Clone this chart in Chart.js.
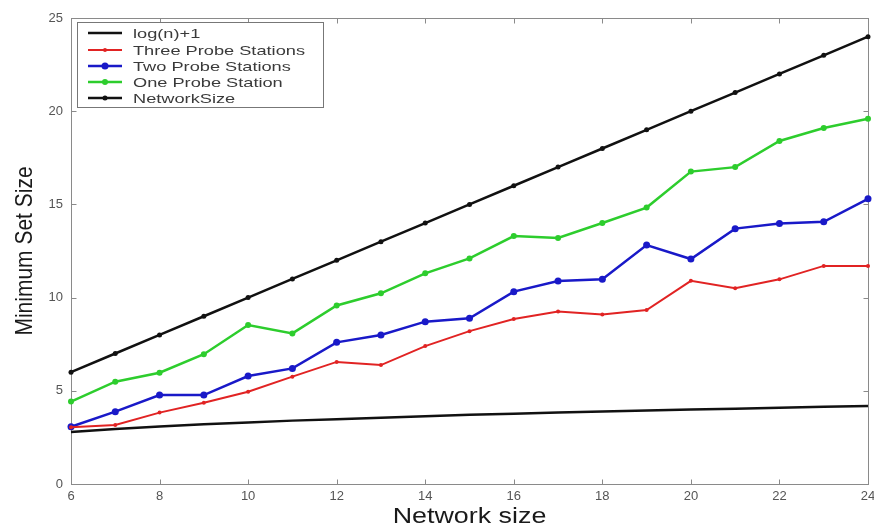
<!DOCTYPE html>
<html>
<head>
<meta charset="utf-8">
<script src="https://cdn.jsdelivr.net/npm/chart.js@4/dist/chart.umd.min.js"></script>
<style>
  html, body { margin: 0; padding: 0; background: #fff; }
  #wrap { width: 874px; height: 527px; position: relative; }
</style>
</head>
<body>
<div id="wrap"><canvas id="c" width="874" height="527"></canvas></div>
<script>
// ---- data ----
const networkSizes = [6, 7, 8, 9, 10, 11, 12, 13, 14, 15, 16, 17, 18, 19, 20, 21, 22, 23, 24];
const logPlusOne   = [2.79, 2.95, 3.08, 3.20, 3.30, 3.40, 3.48, 3.56, 3.64, 3.71, 3.77, 3.83, 3.89, 3.94, 4.00, 4.04, 4.09, 4.14, 4.18];
const threeProbe   = [3.05, 3.17, 3.83, 4.36, 4.95, 5.76, 6.55, 6.38, 7.40, 8.20, 8.85, 9.25, 9.10, 9.33, 10.90, 10.50, 10.98, 11.70, 11.70];
const twoProbe     = [3.07, 3.88, 4.77, 4.77, 5.79, 6.20, 7.60, 7.99, 8.71, 8.89, 10.32, 10.89, 10.98, 12.82, 12.07, 13.70, 13.98, 14.07, 15.30];
const oneProbe     = [4.42, 5.49, 5.97, 6.96, 8.53, 8.08, 9.58, 10.23, 11.30, 12.10, 13.30, 13.20, 14.00, 14.83, 16.76, 17.00, 18.40, 19.10, 19.60];
const netSizeLine  = [6, 7, 8, 9, 10, 11, 12, 13, 14, 15, 16, 17, 18, 19, 20, 21, 22, 23, 24];
const seriesLabels = ['log(n)+1', 'Three Probe Stations', 'Two Probe Stations', 'One Probe Station', 'NetworkSize'];
const xTitle = 'Network size';
const yTitle = 'Minimum Set Size';

const pts = ys => networkSizes.map((x, i) => ({ x: x, y: ys[i] }));
const FONT = '"Liberation Sans", Arial, Helvetica, sans-serif';

const matlabPlugin = {
  id: 'matlabAxes',
  beforeDatasetsDraw(chart) {
    const { ctx, chartArea: a, scales: { x, y } } = chart;
    ctx.save();
    ctx.strokeStyle = '#8a8a8a';
    ctx.lineWidth = 1;
    const L = Math.round(a.left) + 0.5, R = Math.round(a.right) + 0.5;
    const T = Math.round(a.top) + 0.5, B = Math.round(a.bottom) + 0.5;
    ctx.strokeRect(L, T, R - L, B - T);
    const tl = 5;
    ctx.beginPath();
    x.ticks.forEach(t => {
      const px = Math.round(x.getPixelForValue(t.value)) + 0.5;
      ctx.moveTo(px, B); ctx.lineTo(px, B - tl);
      ctx.moveTo(px, T); ctx.lineTo(px, T + tl);
    });
    y.ticks.forEach(t => {
      const py = Math.round(y.getPixelForValue(t.value)) + 0.5;
      ctx.moveTo(L, py); ctx.lineTo(L + tl, py);
      ctx.moveTo(R, py); ctx.lineTo(R - tl, py);
    });
    ctx.stroke();

    // axis titles (slightly widened like the reference)
    ctx.fillStyle = '#1a1a1a';
    ctx.textAlign = 'center';
    ctx.textBaseline = 'middle';
    ctx.font = '22px ' + FONT;
    ctx.save();
    ctx.translate((a.left + a.right) / 2, 517);
    ctx.scale(1.22, 1);
    ctx.fillText(xTitle, 0, 0);
    ctx.restore();
    ctx.font = '21px ' + FONT;
    ctx.save();
    ctx.translate(25, (a.top + a.bottom) / 2);
    ctx.rotate(-Math.PI / 2);
    ctx.scale(1, 1.15);
    ctx.fillText(yTitle, 0, 0);
    ctx.restore();
    ctx.restore();
  },
  afterDatasetsDraw(chart) {
    const { ctx } = chart;
    ctx.save();
    // legend box
    const bx = 77.5, by = 22.5, bw = 246, bh = 85;
    ctx.fillStyle = '#ffffff';
    ctx.fillRect(bx, by, bw, bh);
    ctx.strokeStyle = '#777';
    ctx.lineWidth = 1;
    ctx.strokeRect(bx, by, bw, bh);
    const rows = [33, 50, 66, 82, 98];
    chart.data.datasets.forEach((ds, i) => {
      const yy = rows[i];
      ctx.strokeStyle = ds.borderColor;
      ctx.lineWidth = ds.borderWidth;
      ctx.beginPath();
      ctx.moveTo(88, yy); ctx.lineTo(122, yy);
      ctx.stroke();
      if (ds.pointRadius > 0) {
        ctx.fillStyle = ds.borderColor;
        ctx.beginPath();
        ctx.arc(105, yy, ds.pointRadius, 0, Math.PI * 2);
        ctx.fill();
      }
      ctx.fillStyle = '#3a3a3a';
      ctx.font = '13px ' + FONT;
      ctx.textAlign = 'left';
      ctx.textBaseline = 'middle';
      ctx.save();
      ctx.translate(133, yy + 1);
      ctx.scale(1.4, 1);
      ctx.fillText(ds.label, 0, 0);
      ctx.restore();
    });
    ctx.restore();
  }
};

const mk = (label, data, color, width, radius) => ({
  label: label,
  data: pts(data),
  borderColor: color,
  backgroundColor: color,
  borderWidth: width,
  pointRadius: radius,
  pointHoverRadius: radius,
  pointBorderWidth: 0,
  pointBackgroundColor: color,
  tension: 0,
  clip: false
});

new Chart(document.getElementById('c'), {
  type: 'line',
  data: {
    datasets: [
      mk(seriesLabels[0], logPlusOne, '#111111', 2.5, 0),
      mk(seriesLabels[1], threeProbe, 'rgb(225,35,35)', 2, 2),
      mk(seriesLabels[2], twoProbe, 'rgb(25,25,200)', 2.5, 3.5),
      mk(seriesLabels[3], oneProbe, 'rgb(45,205,45)', 2.5, 3),
      mk(seriesLabels[4], netSizeLine, '#111111', 2.5, 2.5)
    ]
  },
  options: {
    responsive: false,
    animation: false,
    devicePixelRatio: 1,
    layout: { padding: { top: 18, right: 6, left: 0, bottom: 0 } },
    plugins: { legend: { display: false }, tooltip: { enabled: false } },
    scales: {
      x: {
        type: 'linear',
        min: 6, max: 24,
        grid: { display: false, drawTicks: false },
        border: { display: false },
        ticks: { stepSize: 2, padding: 5, color: '#555', font: { size: 13, family: FONT }, maxRotation: 0 },
        afterFit(s) { s.height = 43; s.paddingLeft = 0; s.paddingRight = 0; }
      },
      y: {
        type: 'linear',
        min: 0, max: 25,
        grid: { display: false, drawTicks: false },
        border: { display: false },
        ticks: { stepSize: 5, padding: 8, color: '#555', font: { size: 13, family: FONT } },
        afterFit(s) { s.width = 71; s.paddingTop = 0; s.paddingBottom = 0; }
      }
    }
  },
  plugins: [matlabPlugin]
});
</script>
</body>
</html>
